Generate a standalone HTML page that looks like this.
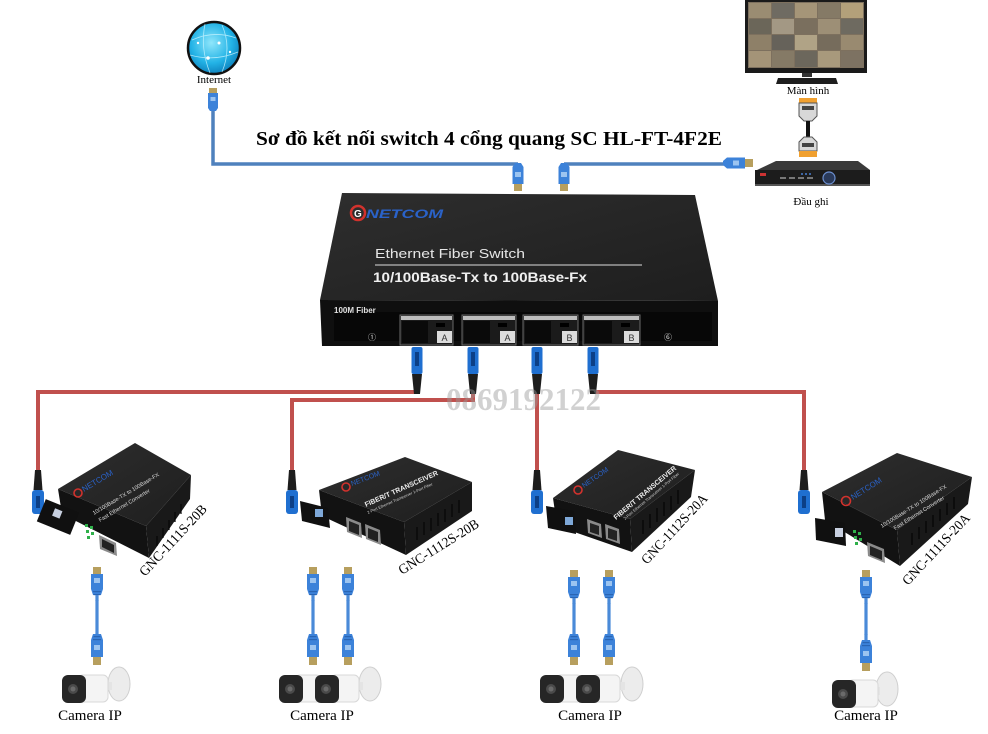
<!DOCTYPE html>
<html><head><meta charset="utf-8">
<style>
html,body{margin:0;padding:0;background:#fff;}
svg{display:block;}
.serif{font-family:"Liberation Serif","Noto Serif CJK SC",serif;}
.sans{font-family:"Liberation Sans","Noto Sans CJK SC",sans-serif;}
</style></head>
<body>
<svg width="988" height="734" viewBox="0 0 988 734" xmlns="http://www.w3.org/2000/svg">
<defs>
<radialGradient id="glob" cx="0.45" cy="0.4" r="0.65">
<stop offset="0" stop-color="#8fe6fb"/>
<stop offset="0.6" stop-color="#23b3e6"/>
<stop offset="1" stop-color="#0a78b5"/>
</radialGradient>
<linearGradient id="top" x1="0" y1="0" x2="1" y2="1">
<stop offset="0" stop-color="#2e2e2e"/>
<stop offset="1" stop-color="#1e1e1e"/>
</linearGradient>
<g id="rj45">
<rect x="-4" y="0" width="8" height="7" fill="#b79f5e"/>
<path d="M-6,7 H6 V22 L4,28 H-4 L-6,22 Z" fill="#3c82d9"/>
<rect x="-3" y="11" width="6" height="5" fill="#9cc4f0"/>
<rect x="-4" y="24" width="8" height="1.2" fill="#2a65b3"/>
<rect x="-3.5" y="27" width="7" height="1.2" fill="#2a65b3"/>
<rect x="-1.6" y="28" width="3.2" height="6" fill="#4a8ad8"/>
</g>
<g id="rj45d">
<rect x="-1.6" y="0" width="3.2" height="6" fill="#4a8ad8"/>
<path d="M-4,6 H4 L6,12 V29 H-6 V12 Z" fill="#3c82d9"/>
<rect x="-3.5" y="8" width="7" height="1.2" fill="#2a65b3"/>
<rect x="-4" y="11" width="8" height="1.2" fill="#2a65b3"/>
<rect x="-3" y="17" width="6" height="5" fill="#9cc4f0"/>
<rect x="-4" y="29" width="8" height="8" fill="#b79f5e"/>
</g>
<g id="fib">
<path d="M-3,0 H3 L4.5,20 H-4.5 Z" fill="#1d1d1d"/>
<rect x="-6" y="20" width="12" height="24" rx="3" fill="#1f6fd0"/>
<rect x="-2" y="26" width="4" height="12" fill="#0c3f86"/>
</g>
<g id="fibs">
<rect x="-5.5" y="0" width="11" height="27" rx="2" fill="#1f6fd0"/>
<rect x="-2" y="5" width="4" height="14" fill="#0c3f86"/>
<path d="M-5,27 H5 L3,47 H-3 Z" fill="#1d1d1d"/>
</g>
<g id="camhead">
<rect x="0" y="0" width="24" height="28" rx="6" fill="#262626"/>
<circle cx="11" cy="14" r="5" fill="#4a4a4a"/>
<circle cx="11" cy="14" r="2.5" fill="#6a6a6a"/>
</g>
</defs>

<!-- Title -->
<text x="256" y="145" class="serif" font-size="20" font-weight="bold" fill="#000" textLength="466" lengthAdjust="spacingAndGlyphs">Sơ đồ kết nối switch  4 cổng quang SC HL-FT-4F2E</text>

<!-- Internet globe -->
<circle cx="214" cy="48" r="26" fill="url(#glob)" stroke="#111" stroke-width="2.5"/>
<g stroke="#c8f4ff" stroke-width="0.8" fill="none" opacity="0.8">
<path d="M192,40 Q214,30 236,38"/>
<path d="M190,55 Q214,62 238,52"/>
<path d="M205,24 Q200,48 210,73"/>
<path d="M222,25 Q232,48 222,72"/>
</g>
<g fill="#fff"><circle cx="208" cy="58" r="1.8"/><circle cx="219" cy="43" r="1.5"/><circle cx="198" cy="43" r="1.2"/><circle cx="230" cy="52" r="1.2"/></g>
<text x="214" y="83" class="serif" font-size="11" text-anchor="middle" fill="#000">Internet</text>

<!-- Blue ethernet lines -->
<path d="M213,108 V164 H518" fill="none" stroke="#4f81bd" stroke-width="3.5"/>
<path d="M564,164 H724" fill="none" stroke="#4f81bd" stroke-width="3.5"/>
<g transform="translate(213,88)">
<rect x="-4" y="0" width="8" height="5" fill="#b79f5e"/>
<path d="M-5,5 H5 V20 L3,23 H-3 L-5,20 Z" fill="#3c82d9"/>
<rect x="-2.5" y="9" width="5" height="4" fill="#9cc4f0"/>
</g>
<g transform="translate(518,163)">
<path d="M-3,0 H3 L5.5,4 V21 H-5.5 V4 Z" fill="#3c82d9"/>
<rect x="-3" y="9" width="6" height="5" fill="#9cc4f0"/>
<rect x="-4" y="21" width="8" height="7" fill="#b79f5e"/>
</g>
<g transform="translate(564,163)">
<path d="M-3,0 H3 L5.5,4 V21 H-5.5 V4 Z" fill="#3c82d9"/>
<rect x="-3" y="9" width="6" height="5" fill="#9cc4f0"/>
<rect x="-4" y="21" width="8" height="7" fill="#b79f5e"/>
</g>
<g transform="translate(723,163)">
<path d="M0,-2 L4,-5.5 H22 V5.5 H4 L0,2 Z" fill="#3c82d9"/>
<rect x="10" y="-2.5" width="6" height="5" fill="#9cc4f0"/>
<rect x="22" y="-4" width="8" height="8" fill="#b79f5e"/>
</g>

<!-- Monitor -->
<rect x="745" y="0" width="122" height="73" fill="#1a1a1a"/>
<g>
<rect x="748" y="2" width="116" height="66" fill="#7d705e"/>
<rect x="749" y="3" width="22" height="15" fill="#9a8c72"/><rect x="772" y="3" width="22" height="15" fill="#6f6b62"/><rect x="795" y="3" width="22" height="15" fill="#a59578"/><rect x="818" y="3" width="22" height="15" fill="#857a66"/><rect x="841" y="3" width="22" height="15" fill="#b3a07a"/>
<rect x="749" y="19" width="22" height="15" fill="#6b6659"/><rect x="772" y="19" width="22" height="15" fill="#a39884"/><rect x="795" y="19" width="22" height="15" fill="#7a6f5e"/><rect x="818" y="19" width="22" height="15" fill="#9d8f76"/><rect x="841" y="19" width="22" height="15" fill="#6e6a60"/>
<rect x="749" y="35" width="22" height="15" fill="#8e8068"/><rect x="772" y="35" width="22" height="15" fill="#66625a"/><rect x="795" y="35" width="22" height="15" fill="#b0a386"/><rect x="818" y="35" width="22" height="15" fill="#766c5c"/><rect x="841" y="35" width="22" height="15" fill="#998a70"/>
<rect x="749" y="51" width="22" height="16" fill="#a49478"/><rect x="772" y="51" width="22" height="16" fill="#857a66"/><rect x="795" y="51" width="22" height="16" fill="#6c675c"/><rect x="818" y="51" width="22" height="16" fill="#a8997c"/><rect x="841" y="51" width="22" height="16" fill="#7d7262"/>
</g>
<rect x="802" y="73" width="10" height="4" fill="#333"/>
<path d="M778,78 H836 L838,84 H776 Z" fill="#1e1e1e"/>
<text x="808" y="94" class="serif" font-size="11" text-anchor="middle" fill="#000">Màn hình</text>

<!-- HDMI -->
<rect x="799" y="98" width="18" height="5" fill="#f0a030"/>
<path d="M799,103 H817 V116 L812,121 H804 L799,116 Z" fill="#d8d8d8" stroke="#555" stroke-width="1"/>
<rect x="802" y="106" width="12" height="4" fill="#444"/>
<rect x="806" y="121" width="4" height="16" fill="#111"/>
<path d="M804,137 H812 L817,142 V151 H799 V142 Z" fill="#d8d8d8" stroke="#555" stroke-width="1"/>
<rect x="802" y="143" width="12" height="4" fill="#444"/>
<rect x="799" y="151" width="18" height="6" fill="#f0a030"/>

<!-- NVR -->
<path d="M757,170 L776,161 H858 L870,170 Z" fill="#3a3a3a"/>
<rect x="755" y="170" width="115" height="16" fill="#1c1c1c"/>
<rect x="755" y="184" width="115" height="2" fill="#555"/>
<rect x="760" y="173" width="6" height="3" fill="#c33"/>
<g fill="#777"><rect x="780" y="177" width="6" height="2"/><rect x="789" y="177" width="6" height="2"/><rect x="798" y="177" width="6" height="2"/><rect x="807" y="177" width="6" height="2"/></g>
<g fill="#4a7fd0"><circle cx="802" cy="174" r="1"/><circle cx="806" cy="174" r="1"/><circle cx="810" cy="174" r="1"/></g>
<circle cx="829" cy="178" r="6" fill="#2a3a5a" stroke="#6b8fd0" stroke-width="1.2"/>
<text x="811" y="205" class="serif" font-size="11" text-anchor="middle" fill="#000">Đầu ghi</text>

<!-- Switch -->
<path d="M342,193 L695,195 L718,301 L320,300 Z" fill="url(#top)"/>
<path d="M320,300 L718,301 L718,346 L322,346 Z" fill="#0f0f0f"/>
<rect x="334" y="312" width="378" height="29" fill="#070707"/>
<circle cx="358" cy="213" r="7" fill="none" stroke="#d2322d" stroke-width="2.5"/>
<text x="354" y="217" class="sans" font-size="10" font-weight="bold" fill="#fff">G</text>
<text x="366" y="218" class="sans" font-size="12" font-weight="bold" font-style="italic" fill="#2a62c8" textLength="77" lengthAdjust="spacingAndGlyphs">NETCOM</text>
<text x="375" y="258" class="sans" font-size="13" fill="#e6e6e6" textLength="150" lengthAdjust="spacingAndGlyphs">Ethernet Fiber Switch</text>
<line x1="375" y1="265" x2="642" y2="265" stroke="#b8b8b8" stroke-width="1.2"/>
<text x="373" y="282" class="sans" font-size="14" font-weight="bold" fill="#f0f0f0" textLength="214" lengthAdjust="spacingAndGlyphs">10/100Base-Tx to 100Base-Fx</text>
<text x="334" y="313" class="sans" font-size="8" font-weight="bold" fill="#e0e0e0">100M Fiber</text>
<text x="372" y="340" class="sans" font-size="8" fill="#ddd" text-anchor="middle">①</text>
<text x="668" y="340" class="sans" font-size="8" fill="#ddd" text-anchor="middle">⑥</text>
<g>
<rect x="400" y="315" width="53" height="30" fill="#1b1b1b" stroke="#6a6a6a" stroke-width="1"/>
<rect x="401" y="316" width="51" height="4" fill="#bdbdbd"/>
<rect x="402" y="321" width="26" height="22" fill="#0a0a0a"/>
<rect x="436" y="323" width="9" height="4" fill="#000"/>
<rect x="437" y="331" width="15" height="12" fill="#dcdcdc"/>
<text x="444.5" y="341" class="sans" font-size="9" fill="#333" text-anchor="middle">A</text>

<rect x="462" y="315" width="54" height="30" fill="#1b1b1b" stroke="#6a6a6a" stroke-width="1"/>
<rect x="463" y="316" width="52" height="4" fill="#bdbdbd"/>
<rect x="464" y="321" width="26" height="22" fill="#0a0a0a"/>
<rect x="498" y="323" width="9" height="4" fill="#000"/>
<rect x="500" y="331" width="15" height="12" fill="#dcdcdc"/>
<text x="507.5" y="341" class="sans" font-size="9" fill="#333" text-anchor="middle">A</text>

<rect x="523" y="315" width="55" height="30" fill="#1b1b1b" stroke="#6a6a6a" stroke-width="1"/>
<rect x="524" y="316" width="53" height="4" fill="#bdbdbd"/>
<rect x="525" y="321" width="26" height="22" fill="#0a0a0a"/>
<rect x="560" y="323" width="9" height="4" fill="#000"/>
<rect x="562" y="331" width="15" height="12" fill="#dcdcdc"/>
<text x="569.5" y="341" class="sans" font-size="9" fill="#333" text-anchor="middle">B</text>

<rect x="583" y="315" width="57" height="30" fill="#1b1b1b" stroke="#6a6a6a" stroke-width="1"/>
<rect x="584" y="316" width="55" height="4" fill="#bdbdbd"/>
<rect x="585" y="321" width="27" height="22" fill="#0a0a0a"/>
<rect x="621" y="323" width="9" height="4" fill="#000"/>
<rect x="624" y="331" width="15" height="12" fill="#dcdcdc"/>
<text x="631.5" y="341" class="sans" font-size="9" fill="#333" text-anchor="middle">B</text>
</g>

<!-- Red fiber lines -->
<g fill="none" stroke="#c0504d" stroke-width="4">
<path d="M417,392 H38 V470"/>
<path d="M473,392 V400 H292 V470"/>
<path d="M537,392 V470"/>
<path d="M593,392 H804 V470"/>
</g>
<use href="#fibs" x="417" y="347"/>
<use href="#fibs" x="473" y="347"/>
<use href="#fibs" x="537" y="347"/>
<use href="#fibs" x="593" y="347"/>

<!-- watermark -->
<text x="446" y="410" class="serif" font-size="32" font-weight="bold" fill="#9a9a9a" fill-opacity="0.45" textLength="155" lengthAdjust="spacingAndGlyphs">0869192122</text>

<use href="#fib" x="38" y="470"/>
<use href="#fib" x="292" y="470"/>
<use href="#fib" x="537" y="470"/>
<use href="#fib" x="804" y="470"/>

<!-- Transceiver 1: GNC-1111S-20B -->
<g>
<path d="M58,489 L135,443 L191,475 L146,526 Z" fill="url(#top)"/>
<path d="M58,489 L146,526 L149,558 L62,514 Z" fill="#121212"/>
<path d="M146,526 L191,475 L190,499 L149,558 Z" fill="#191919"/>
<g stroke="#050505" stroke-width="1.2"><line x1="157" y1="536" x2="157" y2="546"/><line x1="163" y1="528" x2="163" y2="538"/><line x1="169" y1="520" x2="169" y2="530"/><line x1="175" y1="512" x2="175" y2="522"/><line x1="181" y1="504" x2="181" y2="514"/></g>
<rect x="40" y="505" width="36" height="24" fill="#101010" transform="rotate(22 58 517)"/>
<rect x="52" y="510" width="8" height="8" fill="#c8d0e0" transform="rotate(22 58 517)"/>
<g fill="#2fb04a"><rect x="85" y="524" width="3" height="3"/><rect x="90" y="526" width="3" height="3"/><rect x="86" y="530" width="3" height="3"/><rect x="91" y="532" width="3" height="3"/><rect x="87" y="536" width="3" height="3"/></g>
<path d="M99,535 L116,543 L117,556 L100,549 Z" fill="#8a8a8a"/>
<path d="M102,539 L114,545 L114,553 L102,547 Z" fill="#222"/>
<circle cx="78" cy="493" r="4" fill="none" stroke="#d2322d" stroke-width="1.6"/>
<text x="84" y="492" class="sans" font-size="8" fill="#2a62c8" transform="rotate(-31 84 492)">NETCOM</text>
<text x="94" y="515" class="sans" font-size="5.5" fill="#ddd" transform="rotate(-31 94 515)">10/100Base-TX to 100Base-FX</text>
<text x="100" y="522" class="sans" font-size="5.5" fill="#ddd" transform="rotate(-31 100 522)">Fast Ethernet Converter</text>
</g>
<text x="145" y="577" class="serif" font-size="14" fill="#000" transform="rotate(-47 145 577)" textLength="92" lengthAdjust="spacingAndGlyphs">GNC-1111S-20B</text>

<!-- Transceiver 2: GNC-1112S-20B -->
<g>
<path d="M319,490 L405,457 L472,482 L404,522 Z" fill="url(#top)"/>
<path d="M319,490 L404,522 L406,555 L322,516 Z" fill="#121212"/>
<path d="M404,522 L472,482 L472,511 L406,555 Z" fill="#191919"/>
<g stroke="#050505" stroke-width="1.2"><line x1="417" y1="527" x2="417" y2="540"/><line x1="424" y1="522" x2="424" y2="535"/><line x1="431" y1="518" x2="431" y2="531"/><line x1="438" y1="513" x2="438" y2="526"/><line x1="445" y1="509" x2="445" y2="522"/><line x1="452" y1="504" x2="452" y2="517"/><line x1="459" y1="500" x2="459" y2="513"/></g>
<path d="M300,501 L328,508 L330,528 L302,521 Z" fill="#101010"/>
<rect x="315" y="509" width="8" height="8" fill="#7ea8d8"/>
<path d="M346,517 L361,523 L362,538 L347,532 Z" fill="#8a8a8a"/>
<path d="M349,521 L359,525 L359,535 L349,531 Z" fill="#222"/>
<path d="M365,524 L380,530 L381,545 L366,539 Z" fill="#8a8a8a"/>
<path d="M368,528 L378,532 L378,542 L368,538 Z" fill="#222"/>
<circle cx="346" cy="487" r="4" fill="none" stroke="#d2322d" stroke-width="1.6"/>
<text x="352" y="486" class="sans" font-size="7" fill="#2a62c8" transform="rotate(-21 352 486)">NETCOM</text>
<text x="366" y="507" class="sans" font-size="7" font-weight="bold" fill="#eee" transform="rotate(-24 366 507)">FIBER/T TRANSCEIVER</text>
<text x="368" y="514" class="sans" font-size="4" fill="#ccc" transform="rotate(-24 368 514)">2-Port Ethernet Transceiver 1-Port Fiber</text>
</g>
<text x="402" y="575" class="serif" font-size="14" fill="#000" transform="rotate(-32 402 575)" textLength="92" lengthAdjust="spacingAndGlyphs">GNC-1112S-20B</text>

<!-- Transceiver 3: GNC-1112S-20A -->
<g>
<path d="M553,498 L618,450 L695,470 L630,519 Z" fill="url(#top)"/>
<path d="M553,498 L630,519 L632,552 L557,526 Z" fill="#121212"/>
<path d="M630,519 L695,470 L691,497 L632,552 Z" fill="#191919"/>
<g stroke="#050505" stroke-width="1.2"><line x1="643" y1="520" x2="643" y2="534"/><line x1="650" y1="514" x2="650" y2="528"/><line x1="657" y1="508" x2="657" y2="522"/><line x1="664" y1="502" x2="664" y2="516"/><line x1="671" y1="496" x2="671" y2="510"/><line x1="678" y1="490" x2="678" y2="504"/></g>
<path d="M546,506 L574,511 L576,534 L548,528 Z" fill="#101010"/>
<rect x="565" y="517" width="8" height="8" fill="#7ea8d8"/>
<path d="M587,519 L601,524 L602,538 L588,533 Z" fill="#8a8a8a"/>
<path d="M590,523 L599,526 L599,535 L590,532 Z" fill="#222"/>
<path d="M605,524 L619,529 L620,544 L606,539 Z" fill="#8a8a8a"/>
<path d="M608,528 L617,531 L617,541 L608,538 Z" fill="#222"/>
<circle cx="578" cy="490" r="4" fill="none" stroke="#d2322d" stroke-width="1.6"/>
<text x="584" y="488" class="sans" font-size="7" fill="#2a62c8" transform="rotate(-35 584 488)">NETCOM</text>
<text x="616" y="520" class="sans" font-size="7" font-weight="bold" fill="#eee" transform="rotate(-40 616 520)">FIBER/T TRANSCEIVER</text>
<text x="625" y="520" class="sans" font-size="4" fill="#ccc" transform="rotate(-40 625 520)">2-Port Ethernet Transceiver 1-Port Fiber</text>
</g>
<text x="647" y="565" class="serif" font-size="14" fill="#000" transform="rotate(-47 647 565)" textLength="90" lengthAdjust="spacingAndGlyphs">GNC-1112S-20A</text>

<!-- Transceiver 4: GNC-1111S-20A -->
<g>
<path d="M822,492 L897,453 L972,477 L897,530 Z" fill="url(#top)"/>
<path d="M822,492 L897,530 L900,566 L825,520 Z" fill="#121212"/>
<path d="M897,530 L972,477 L968,504 L900,566 Z" fill="#191919"/>
<g stroke="#050505" stroke-width="1.2"><line x1="912" y1="533" x2="912" y2="545"/><line x1="919" y1="527" x2="919" y2="539"/><line x1="926" y1="521" x2="926" y2="533"/><line x1="933" y1="515" x2="933" y2="527"/><line x1="940" y1="509" x2="940" y2="521"/><line x1="947" y1="503" x2="947" y2="515"/><line x1="954" y1="497" x2="954" y2="509"/></g>
<path d="M815,518 L845,523 L846,546 L816,540 Z" fill="#101010"/>
<rect x="835" y="528" width="8" height="9" fill="#c8d0e0"/>
<g fill="#2fb04a"><rect x="853" y="530" width="3" height="3"/><rect x="858" y="532" width="3" height="3"/><rect x="854" y="536" width="3" height="3"/><rect x="859" y="538" width="3" height="3"/><rect x="855" y="542" width="3" height="3"/></g>
<path d="M867,542 L884,549 L885,563 L868,556 Z" fill="#8a8a8a"/>
<path d="M870,546 L882,551 L882,560 L870,555 Z" fill="#222"/>
<circle cx="846" cy="501" r="4.5" fill="none" stroke="#d2322d" stroke-width="1.6"/>
<text x="853" y="500" class="sans" font-size="8" fill="#2a62c8" transform="rotate(-32 853 500)">NETCOM</text>
<text x="882" y="528" class="sans" font-size="5.5" fill="#ddd" transform="rotate(-32 882 528)">10/100Base-TX to 100Base-FX</text>
<text x="895" y="530" class="sans" font-size="5.5" fill="#ddd" transform="rotate(-32 895 530)">Fast Ethernet Converter</text>
</g>
<text x="908" y="586" class="serif" font-size="14" fill="#000" transform="rotate(-47 908 586)" textLength="92" lengthAdjust="spacingAndGlyphs">GNC-1111S-20A</text>

<!-- Patch cables -->
<use href="#rj45" x="97" y="567"/>
<rect x="95.4" y="600" width="3.2" height="28" fill="#4a8ad8"/>
<use href="#rj45d" x="97" y="628"/>

<use href="#rj45" x="313" y="567"/>
<rect x="311.4" y="600" width="3.2" height="28" fill="#4a8ad8"/>
<use href="#rj45d" x="313" y="628"/>
<use href="#rj45" x="348" y="567"/>
<rect x="346.4" y="600" width="3.2" height="28" fill="#4a8ad8"/>
<use href="#rj45d" x="348" y="628"/>

<use href="#rj45" x="574" y="570"/>
<rect x="572.4" y="603" width="3.2" height="25" fill="#4a8ad8"/>
<use href="#rj45d" x="574" y="628"/>
<use href="#rj45" x="609" y="570"/>
<rect x="607.4" y="603" width="3.2" height="25" fill="#4a8ad8"/>
<use href="#rj45d" x="609" y="628"/>

<use href="#rj45" x="866" y="570"/>
<rect x="864.4" y="603" width="3.2" height="32" fill="#4a8ad8"/>
<use href="#rj45d" x="866" y="634"/>

<!-- Cameras -->
<ellipse cx="119" cy="684" rx="11" ry="17" fill="#ececec" stroke="#cfcfcf"/>
<rect x="104" y="682" width="8" height="8" fill="#e4e4e4"/>
<rect x="78" y="675" width="30" height="27" rx="5" fill="#f4f4f4" stroke="#d8d8d8"/>
<use href="#camhead" x="62" y="675"/>
<text x="90" y="720" class="serif" font-size="15" text-anchor="middle" fill="#000">Camera IP</text>

<rect x="295" y="675" width="26" height="27" rx="5" fill="#f4f4f4" stroke="#d8d8d8"/>
<use href="#camhead" x="279" y="675"/>
<ellipse cx="370" cy="684" rx="11" ry="17" fill="#ececec" stroke="#cfcfcf"/>
<rect x="355" y="682" width="8" height="8" fill="#e4e4e4"/>
<rect x="331" y="675" width="28" height="27" rx="5" fill="#f4f4f4" stroke="#d8d8d8"/>
<use href="#camhead" x="315" y="675"/>
<text x="322" y="720" class="serif" font-size="15" text-anchor="middle" fill="#000">Camera IP</text>

<rect x="556" y="675" width="26" height="27" rx="5" fill="#f4f4f4" stroke="#d8d8d8"/>
<use href="#camhead" x="540" y="675"/>
<ellipse cx="632" cy="684" rx="11" ry="17" fill="#ececec" stroke="#cfcfcf"/>
<rect x="617" y="682" width="8" height="8" fill="#e4e4e4"/>
<rect x="592" y="675" width="28" height="27" rx="5" fill="#f4f4f4" stroke="#d8d8d8"/>
<use href="#camhead" x="576" y="675"/>
<text x="590" y="720" class="serif" font-size="15" text-anchor="middle" fill="#000">Camera IP</text>

<ellipse cx="887" cy="689" rx="11" ry="17" fill="#ececec" stroke="#cfcfcf"/>
<rect x="872" y="687" width="8" height="8" fill="#e4e4e4"/>
<rect x="848" y="680" width="30" height="27" rx="5" fill="#f4f4f4" stroke="#d8d8d8"/>
<use href="#camhead" x="832" y="680"/>
<text x="866" y="720" class="serif" font-size="15" text-anchor="middle" fill="#000">Camera IP</text>
</svg>
</body></html>
